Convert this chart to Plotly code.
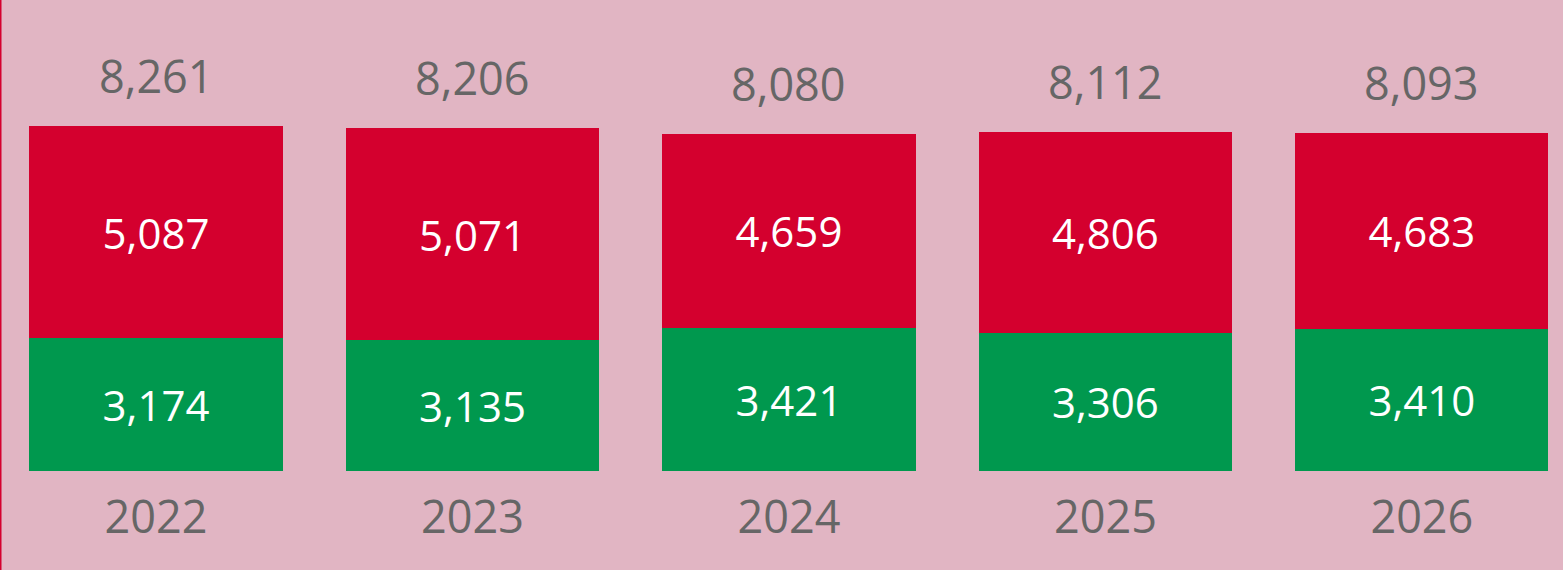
import plotly.graph_objects as go

# data
years = ["2022", "2023", "2024", "2025", "2026"]
green_values = [3174, 3135, 3421, 3306, 3410]
red_values = [5087, 5071, 4659, 4806, 4683]
totals = [g + r for g, r in zip(green_values, red_values)]

BG = "#E1B5C3"
RED = "#D4002E"
GREEN = "#00984E"
GREY = "#666666"
FONT = "Open Sans"

fig = go.Figure()

# bottom segment
fig.add_trace(go.Bar(
    x=years, y=green_values,
    marker=dict(color=GREEN, line=dict(width=0)),
    text=[f"{v:,}" for v in green_values],
    textposition="inside", insidetextanchor="middle",
    textfont=dict(color="white", size=42, family=FONT),
    width=0.8, hoverinfo="skip",
))

# top segment
fig.add_trace(go.Bar(
    x=years, y=red_values,
    marker=dict(color=RED, line=dict(width=0)),
    text=[f"{v:,}" for v in red_values],
    textposition="inside", insidetextanchor="middle",
    textfont=dict(color="white", size=42, family=FONT),
    width=0.8, hoverinfo="skip",
))

# totals above the bars (category index as x position)
for i, tot in enumerate(totals):
    fig.add_annotation(
        x=i, y=tot, xref="x", yref="y", text=f"{tot:,}",
        showarrow=False, yanchor="bottom", yshift=18,
        font=dict(color=GREY, size=45, family=FONT),
    )

fig.update_layout(
    width=1563, height=570,
    barmode="stack",
    showlegend=False,
    paper_bgcolor=BG, plot_bgcolor=BG,
    margin=dict(l=0, r=0, t=0, b=99),
    uniformtext=dict(mode=False),
    xaxis=dict(
        type="category",
        range=[-0.493, 4.446],
        showgrid=False, zeroline=False, showline=False,
        ticks="", ticklen=0, ticklabelstandoff=16,
        tickfont=dict(color=GREY, size=45, family=FONT),
    ),
    yaxis=dict(
        range=[0, 11280],
        visible=False,
    ),
    shapes=[dict(type="line", xref="paper", yref="paper",
                 x0=0, x1=0, y0=-1, y1=2,
                 line=dict(color=RED, width=3))],
)

# drop the page's default body margin so the chart fills the window
fig.write_html("out.html", config={"displayModeBar": False},
               post_script="document.body.style.margin='0';")
